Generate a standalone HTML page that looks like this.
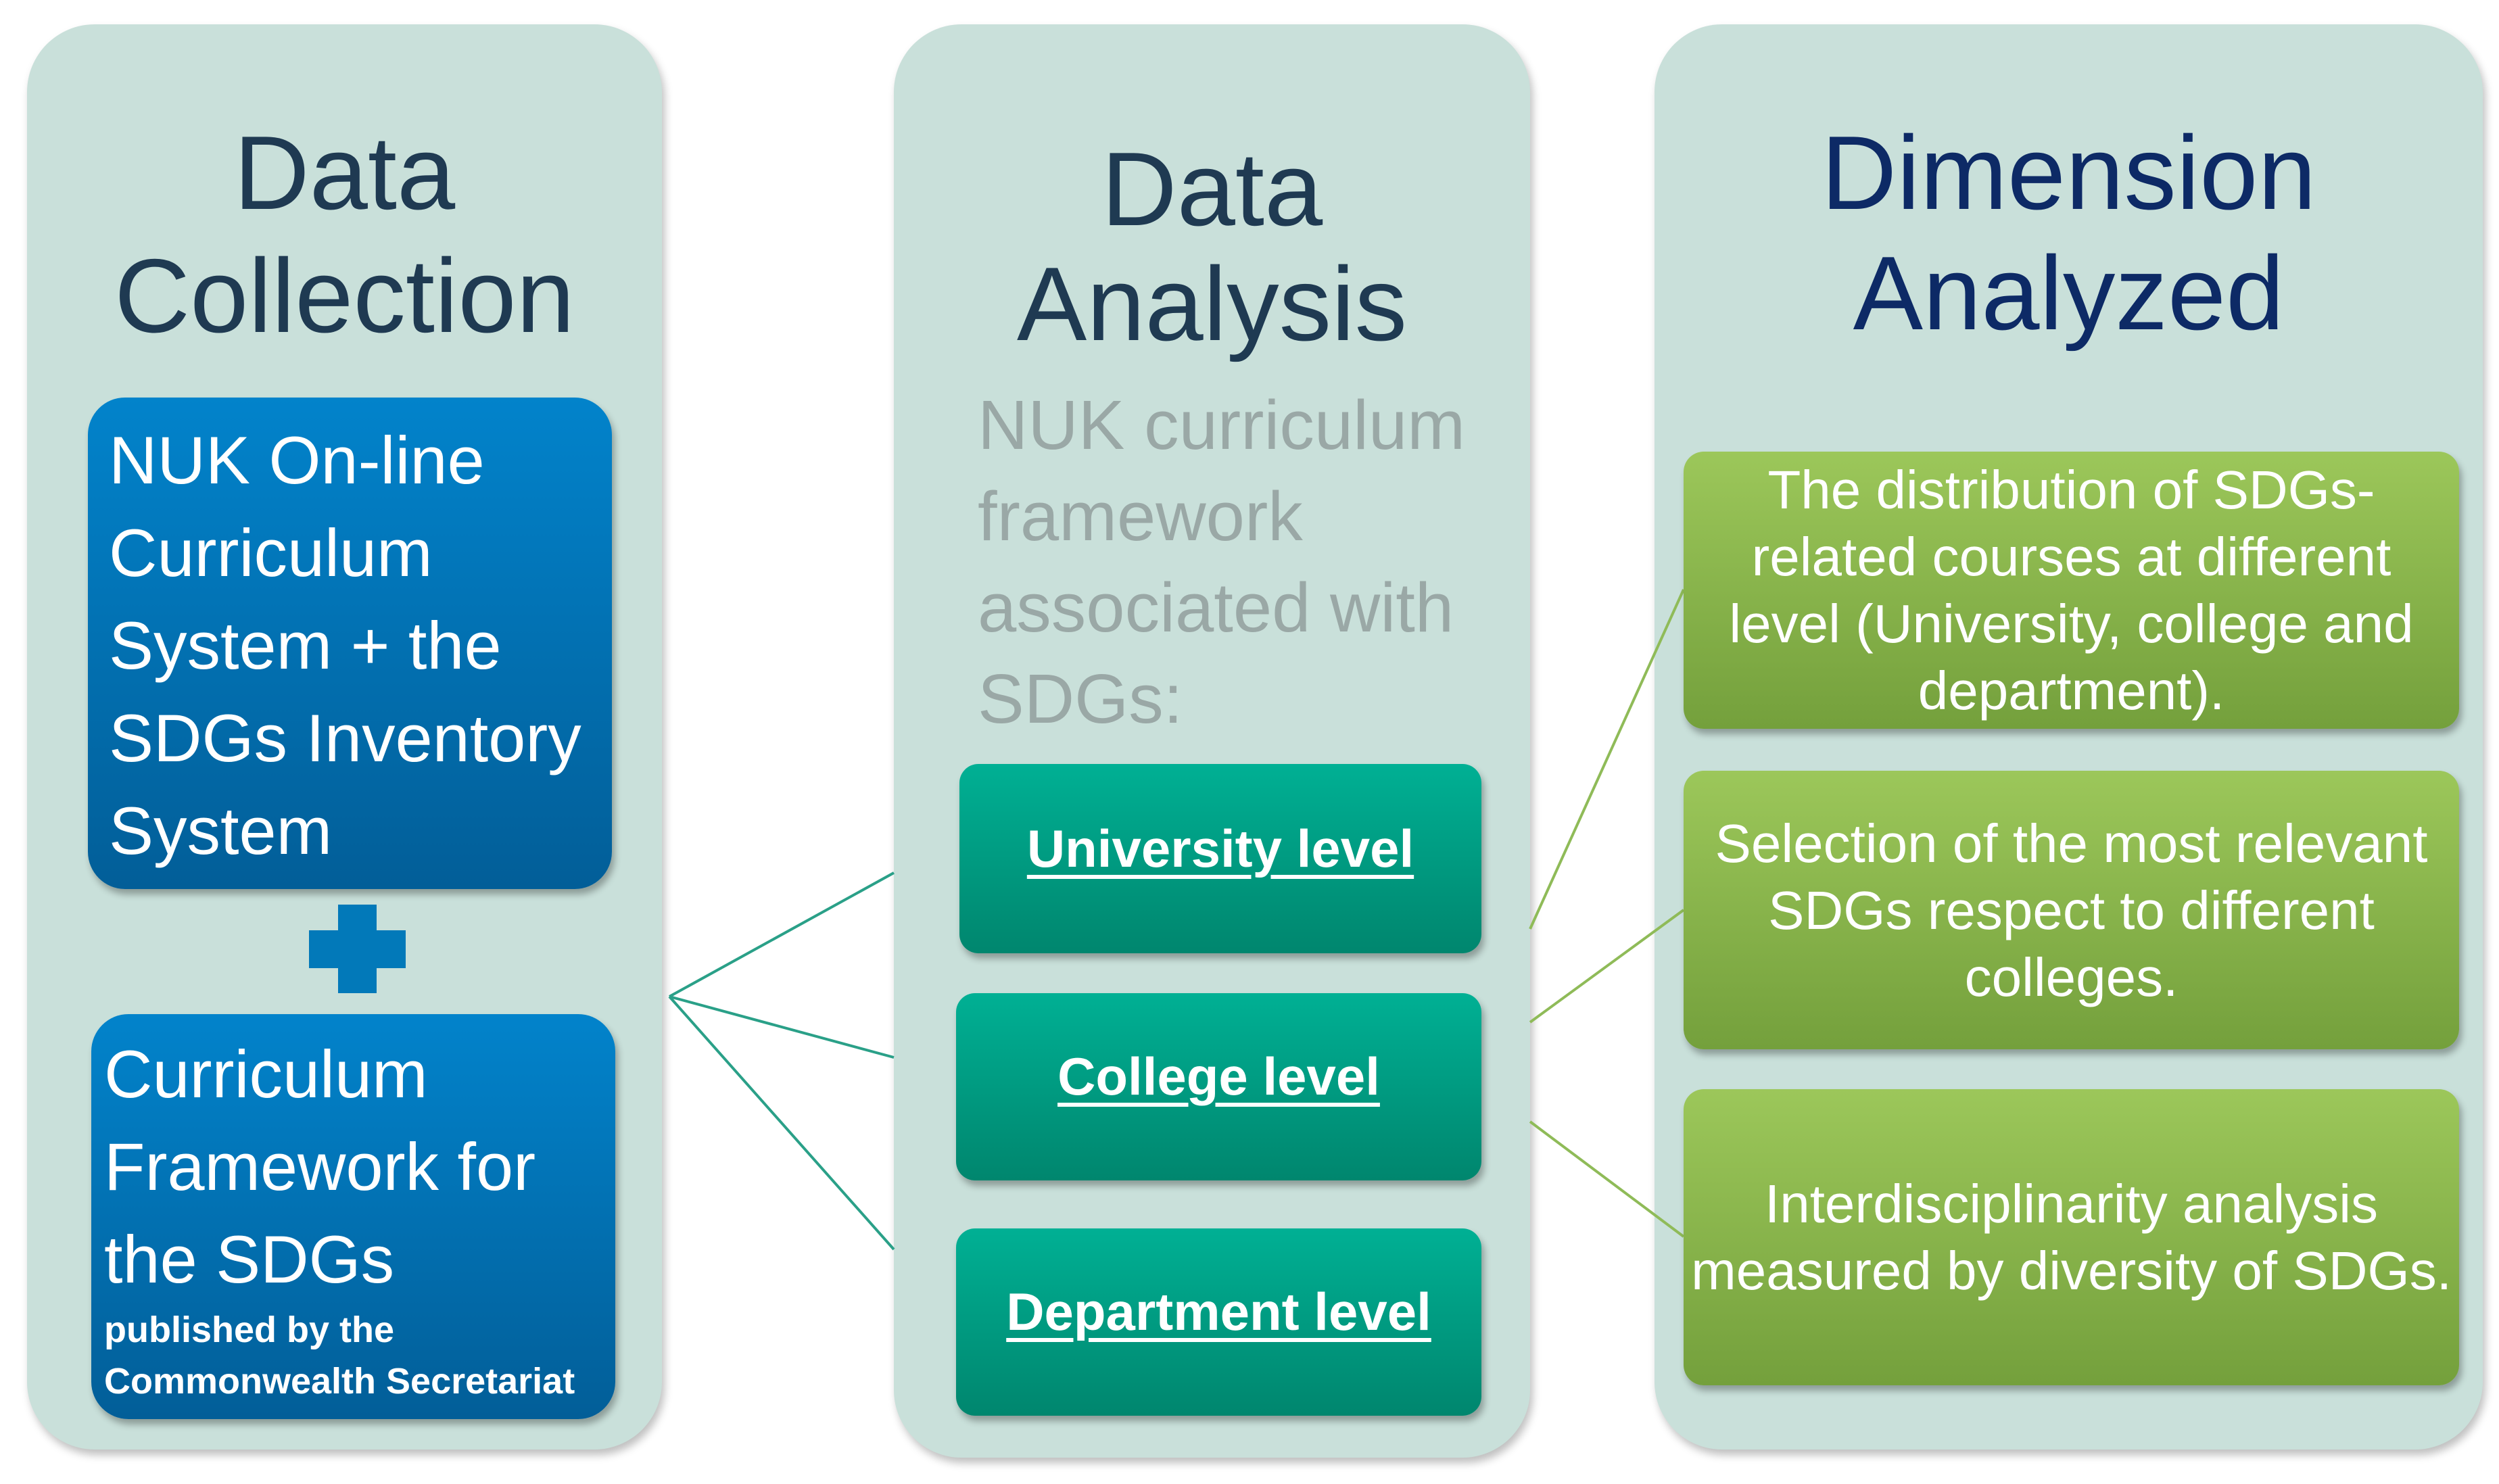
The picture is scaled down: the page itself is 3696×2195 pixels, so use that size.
<!DOCTYPE html>
<html><head><meta charset="utf-8"><style>
body{margin:0;width:3696px;height:2195px;background:#fff;position:relative;overflow:hidden;font-family:"Liberation Sans",sans-serif}
.a{position:absolute}
.panel{position:absolute;background:#c9e0da;border-radius:100px;box-shadow:4px 8px 12px rgba(0,0,0,.25)}
.t{position:absolute;white-space:nowrap;line-height:1}
.blue{position:absolute;border-radius:55px;background:linear-gradient(#0283cb,#025e98);box-shadow:4px 8px 10px rgba(0,0,0,.3)}
.teal{position:absolute;box-sizing:border-box;padding-bottom:30px;border-radius:28px;background:linear-gradient(#00b094,#00866e);box-shadow:4px 8px 10px rgba(0,0,0,.3);color:#fff;font-weight:bold;text-decoration:underline;text-decoration-thickness:6px;text-underline-offset:12px;font-size:78px;display:flex;align-items:center;justify-content:center}
.green{position:absolute;border-radius:30px;background:linear-gradient(#9cc75a,#74a03c);box-shadow:4px 8px 10px rgba(0,0,0,.3);color:#fff;font-size:80px;line-height:99px;text-align:center;display:flex;align-items:center;justify-content:center;white-space:nowrap}
</style></head><body>
<div class="panel" style="left:40px;top:36px;width:939px;height:2108px"></div>
<div class="panel" style="left:1322px;top:36px;width:941px;height:2120px"></div>
<div class="panel" style="left:2447px;top:36px;width:1225px;height:2108px"></div>

<svg class="a" style="left:0;top:0" width="3696" height="2195">
<g stroke="#2aa088" stroke-width="4"><line x1="990" y1="1474" x2="1322" y2="1291"/><line x1="990" y1="1474" x2="1322" y2="1564"/><line x1="990" y1="1474" x2="1322" y2="1848"/></g>
<g stroke="#8fbb58" stroke-width="4"><line x1="2263" y1="1374" x2="2490" y2="872"/><line x1="2263" y1="1512" x2="2490" y2="1346"/><line x1="2263" y1="1659" x2="2490" y2="1829"/></g>
</svg>

<div class="t" style="left:40px;width:939px;top:165px;text-align:center;font-size:155px;color:#1f3a52;line-height:182px">Data<br>Collection</div>
<div class="t" style="left:1322px;width:941px;top:195px;text-align:center;font-size:155px;color:#1f3a52;line-height:170px">Data<br>Analysis</div>
<div class="t" style="left:2447px;width:1225px;top:167px;text-align:center;font-size:155px;color:#0d2a66;line-height:178px">Dimension<br>Analyzed</div>

<div class="blue" style="left:130px;top:588px;width:775px;height:727px"></div>
<div class="t" style="left:161px;top:612px;font-size:99px;line-height:137px;color:#fff">NUK On-line<br>Curriculum<br>System + the<br>SDGs Inventory<br>System</div>

<div class="a" style="left:457px;top:1376px;width:143px;height:56px;background:#0279b9"></div>
<div class="a" style="left:500px;top:1338px;width:57px;height:131px;background:#0279b9"></div>

<div class="blue" style="left:135px;top:1500px;width:775px;height:599px"></div>
<div class="t" style="left:154px;top:1520px;font-size:99px;line-height:137px;color:#fff">Curriculum<br>Framework for<br>the SDGs</div>
<div class="t" style="left:154px;top:1929px;font-size:54px;line-height:76px;color:#fff;font-weight:bold">published by the<br>Commonwealth Secretariat</div>

<div class="t" style="left:1446px;top:561px;font-size:103px;line-height:135px;color:#9aa8a6">NUK curriculum<br>framework<br>associated with<br>SDGs:</div>

<div class="teal" style="left:1419px;top:1130px;width:772px;height:280px">University level</div>
<div class="teal" style="left:1414px;top:1469px;width:777px;height:277px">College level</div>
<div class="teal" style="left:1414px;top:1817px;width:777px;height:277px">Department level</div>

<div class="green" style="left:2490px;top:668px;width:1147px;height:410px"><div>The distribution of SDGs-<br>related courses at different<br>level (University, college and<br>department).</div></div>
<div class="green" style="left:2490px;top:1140px;width:1147px;height:412px"><div>Selection of the most relevant<br>SDGs respect to different<br>colleges.</div></div>
<div class="green" style="left:2490px;top:1611px;width:1147px;height:438px"><div>Interdisciplinarity analysis<br>measured by diversity of SDGs.</div></div>
</body></html>
